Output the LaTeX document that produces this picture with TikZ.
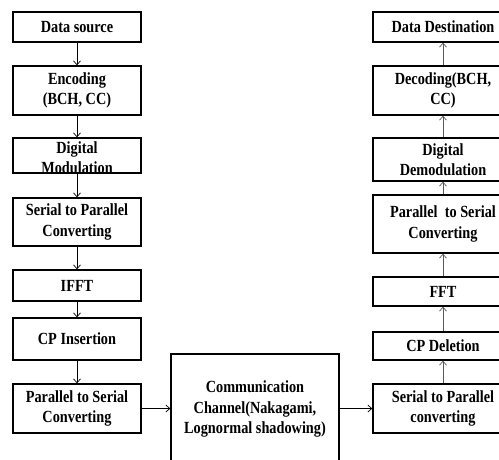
\documentclass[tikz,border=0pt]{standalone}
\usepackage{fontspec}
\setmainfont{Liberation Serif}[FakeStretch=0.84]
\usepackage{tikz}
\usetikzlibrary{arrows.meta}

\begin{document}
\begin{tikzpicture}[x=1pt, y=-1pt,
  box/.style={draw, line width=1.3pt, fill=white, align=center, inner sep=0pt,
              font=\fontsize{17}{20.5}\selectfont\bfseries, minimum width=#1},
  box/.default=128pt,
  txt/.style={align=center, inner sep=0pt, font=\fontsize{17}{20.5}\selectfont\bfseries},
  arr/.style={-{Straight Barb[length=4pt,width=7pt]}, line width=0.7pt},
  uarr/.style={arr, draw=black!65}]
  \useasboundingbox (0,0) rectangle (499,459);
  % left column: transmitter
  \node[box, minimum height=30pt]  (src)  at (77,27)    {Data source};
  \node[box, minimum height=49pt]  (enc)  at (77,90.5)  {Encoding\\(BCH, CC)};
  \node[box, minimum height=35pt,
        label={[txt, yshift=-2pt]center:Digital\\Modulation}] (mod) at (77,155.5) {};
  \node[box, minimum height=48pt]  (stp)  at (77,222)   {Serial to Parallel\\Converting};
  \node[box, minimum height=31pt]  (ifft) at (77,285.5) {IFFT};
  \node[box, minimum height=42pt]  (cpi)  at (77,339)   {CP Insertion};
  \node[box, minimum height=49pt]  (pts)  at (77,408.5) {Parallel to Serial\\Converting};
  % the channel
  \node[box=168pt, minimum height=110pt] (chan) at (255,409) {Communication\\Channel(Nakagami,\\Lognormal shadowing)};
  % right column: receiver
  \node[box=140pt, minimum height=30pt] (dst)  at (443,27)    {Data Destination};
  \node[box=140pt, minimum height=49pt] (dec)  at (443,90.5)  {Decoding(BCH,\\CC)};
  \node[box=140pt, minimum height=43pt] (dem)  at (443,159.5) {Digital\\Demodulation};
  \node[box=140pt, minimum height=58pt] (rpts) at (443,224)   {Parallel~ to Serial\\Converting};
  \node[box=140pt, minimum height=29pt] (fft)  at (443,291.5) {FFT};
  \node[box=140pt, minimum height=28pt] (cpd)  at (443,346)   {CP Deletion};
  \node[box=140pt, minimum height=49pt] (rstp) at (443,408.5) {Serial to Parallel\\converting};
  \draw[arr] (src) -- (enc);
  \draw[arr] (enc) -- (mod);
  \draw[arr] (mod) -- (stp);
  \draw[arr] (stp) -- (ifft);
  \draw[arr] (ifft) -- (cpi);
  \draw[arr] (cpi) -- (pts);
  \draw[arr] (pts.east) -- (pts.east -| chan.west);
  \draw[arr] (chan.east |- rstp.west) -- (rstp.west);
  \draw[uarr] (rstp) -- (cpd);
  \draw[uarr] (cpd) -- (fft);
  \draw[uarr] (fft) -- (rpts);
  \draw[uarr] (rpts) -- (dem);
  \draw[uarr] (dem) -- (dec);
  \draw[uarr] (dec) -- (dst);
\end{tikzpicture}
\end{document}
